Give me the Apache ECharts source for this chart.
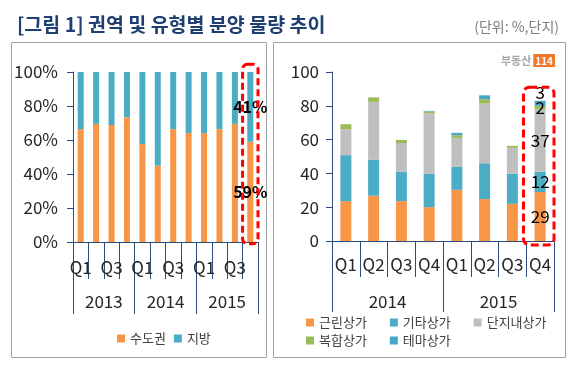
<!DOCTYPE html>
<html><head><meta charset="utf-8">
<script src="https://cdn.jsdelivr.net/npm/echarts@6/dist/echarts.min.js"></script>
<style>html,body{margin:0;padding:0;background:#fff}#c{width:575px;height:370px}</style>
</head><body><div id="c"></div>
<script>
const quarterNames = ['Q1','Q2','Q3','Q4'];
const leftYears = ['2013','2014','2015'];
const rightYears = ['2014','2015'];
// left: share (%) by region
const capitalShare = [66.4, 69.5, 68.8, 73.4, 57.6, 44.9, 66.4, 64.1, 64.1, 66.4, 69.5, 59];
const regionShare  = [33.6, 30.5, 31.2, 26.6, 42.4, 55.1, 33.6, 35.9, 35.9, 33.6, 30.5, 41];
// right: supply (단지) by type
const neighborhood = [23.6, 26.8, 23.6, 20, 30.3, 24.8, 22, 29];
const otherType    = [27.2, 21.2, 17.4, 19.8, 13.6, 21.2, 17.8, 12];
const complexInner = [15.3, 34.3, 17, 35.8, 17.1, 35.3, 15.3, 37];
const mixedUse     = [3, 2.7, 1.8, 1, 1.6, 2.6, 1.2, 2];
const themeMall    = [0, 0, 0, 0.4, 1.4, 2.3, 0, 3];

const FONT = 'Noto Sans CJK KR';
const AXIS = '#2B4A7E';
const TXT = '#262626';

const leftCats = [];
leftYears.forEach(y => quarterNames.forEach(q => leftCats.push(y + ' ' + q)));
const rightCats = [];
rightYears.forEach(y => quarterNames.forEach(q => rightCats.push(y + ' ' + q)));

function lastLabeled(arr, labelOpt) {
  return arr.map((v, i) => i === arr.length - 1 ? {value: v, label: Object.assign({show: true}, labelOpt)} : v);
}

const chart = echarts.init(document.getElementById('c'), null, {renderer: 'canvas'});

const qAxisCommon = {
  type: 'category', position: 'bottom',
  axisLine: {show: true, lineStyle: {color: AXIS, width: 1}},
  axisTick: {show: true, interval: 0, lineStyle: {color: AXIS}},
  axisLabel: {color: TXT, fontSize: 17, fontFamily: FONT, formatter: v => v.split(' ')[1]}
};
const yAxisCommon = {
  type: 'value', min: 0, max: 100, interval: 20,
  axisLine: {show: true, lineStyle: {color: AXIS}},
  axisTick: {show: true, length: 6, lineStyle: {color: AXIS}},
  splitLine: {show: false},
  axisLabel: {color: TXT, fontSize: 17, fontFamily: FONT}
};

const segLabel = {position: 'inside', color: '#000', fontSize: 17, fontFamily: FONT, formatter: p => Math.round(p.value)};

const option = {
  animation: false,
  textStyle: {fontFamily: FONT},
  title: [
    {text: '[그림 1] 권역 및 유형별 분양 물량 추이', left: 12, top: 10,
     textStyle: {fontSize: 19.5, fontWeight: 'bold', color: '#1F3F73', fontFamily: FONT}},
    {text: '(단위: %,단지)', right: 11, top: 15,
     textStyle: {fontSize: 14, fontWeight: 'normal', color: '#7F7F7F', fontFamily: FONT}},
    {text: '{a|부동산}{b|114}', right: 15, top: 49,
     textStyle: {rich: {
       a: {fontSize: 11, color: '#A8A8A8', fontWeight: 'bold', fontFamily: FONT, padding: [0, 2, 0, 0]},
       b: {fontSize: 10, color: '#fff', backgroundColor: '#F0782A', fontWeight: 'bold', fontFamily: FONT, padding: [2, 2, 1, 2]}
     }}}
  ],
  grid: [
    {left: 73, right: 317, top: 72, bottom: 128},
    {left: 332, right: 21, top: 72, bottom: 129}
  ],
  xAxis: [
    Object.assign({}, qAxisCommon, {gridIndex: 0, data: leftCats,
      axisTick: {show: true, interval: 0, length: 37, lineStyle: {color: AXIS}},
      axisLabel: Object.assign({}, qAxisCommon.axisLabel, {interval: 1, margin: 17})}),
    {type: 'category', gridIndex: 0, position: 'bottom', data: leftYears,
      axisLine: {show: false},
      axisTick: {show: true, interval: 0, length: 72, lineStyle: {color: AXIS}},
      axisLabel: {color: TXT, fontSize: 17, fontFamily: FONT, margin: 51}},
    Object.assign({}, qAxisCommon, {gridIndex: 1, data: rightCats,
      axisTick: {show: true, interval: 0, length: 36, lineStyle: {color: AXIS}},
      axisLabel: Object.assign({}, qAxisCommon.axisLabel, {interval: 0, margin: 15})}),
    {type: 'category', gridIndex: 1, position: 'bottom', data: rightYears,
      axisLine: {show: false},
      axisTick: {show: true, interval: 0, length: 71, lineStyle: {color: AXIS}},
      axisLabel: {color: TXT, fontSize: 17, fontFamily: FONT, margin: 52}}
  ],
  yAxis: [
    Object.assign({}, yAxisCommon, {gridIndex: 0,
      axisLabel: Object.assign({}, yAxisCommon.axisLabel, {formatter: '{value}%', margin: 15})}),
    Object.assign({}, yAxisCommon, {gridIndex: 1,
      axisLabel: Object.assign({}, yAxisCommon.axisLabel, {margin: 13})})
  ],
  legend: [
    {data: ['수도권', '지방'], left: 112, top: 327, itemWidth: 8, itemHeight: 8, itemGap: 8, icon: 'rect',
     textStyle: {fontSize: 13, color: '#404040', fontFamily: FONT}},
    {data: ['근린상가', '기타상가', '단지내상가'], left: 301, top: 311, itemWidth: 8, itemHeight: 8, itemGap: 23, icon: 'rect',
     textStyle: {fontSize: 13, color: '#404040', fontFamily: FONT}},
    {data: ['복합상가', '테마상가'], left: 301, top: 329, itemWidth: 8, itemHeight: 8, itemGap: 23, icon: 'rect',
     textStyle: {fontSize: 13, color: '#404040', fontFamily: FONT}}
  ],
  series: [
    {name: '수도권', type: 'bar', stack: 'L', xAxisIndex: 0, yAxisIndex: 0, barWidth: 6,
     itemStyle: {color: '#F79646'},
     label: {show: false},
     data: lastLabeled(capitalShare, {position: 'inside', color: '#000', fontSize: 16, fontWeight: 'bold', fontFamily: FONT, formatter: '{c}%'})},
    {name: '지방', type: 'bar', stack: 'L', xAxisIndex: 0, yAxisIndex: 0, barWidth: 6,
     itemStyle: {color: '#4BACC6'},
     label: {show: false},
     data: lastLabeled(regionShare, {position: 'inside', color: '#000', fontSize: 16, fontWeight: 'bold', fontFamily: FONT, formatter: '{c}%'})},
    {name: '근린상가', type: 'bar', stack: 'R', xAxisIndex: 2, yAxisIndex: 1, barWidth: 11,
     itemStyle: {color: '#F79646'}, label: {show: false}, data: lastLabeled(neighborhood, segLabel)},
    {name: '기타상가', type: 'bar', stack: 'R', xAxisIndex: 2, yAxisIndex: 1, barWidth: 11,
     itemStyle: {color: '#4BACC6'}, label: {show: false}, data: lastLabeled(otherType, segLabel)},
    {name: '단지내상가', type: 'bar', stack: 'R', xAxisIndex: 2, yAxisIndex: 1, barWidth: 11,
     itemStyle: {color: '#BFBFBF'}, label: {show: false}, data: lastLabeled(complexInner, segLabel)},
    {name: '복합상가', type: 'bar', stack: 'R', xAxisIndex: 2, yAxisIndex: 1, barWidth: 11,
     itemStyle: {color: '#9BBB59'}, label: {show: false}, data: lastLabeled(mixedUse, segLabel)},
    {name: '테마상가', type: 'bar', stack: 'R', xAxisIndex: 2, yAxisIndex: 1, barWidth: 11,
     itemStyle: {color: '#46A8C8'}, label: {show: false},
     data: lastLabeled(themeMall, Object.assign({}, segLabel, {position: 'top', distance: 0}))}
  ]
};
chart.setOption(option);

// panel frames and highlight boxes (derived from library scales)
const lA = chart.convertToPixel({xAxisIndex: 0}, leftCats[10]);
const lB = chart.convertToPixel({xAxisIndex: 0}, leftCats[11]);
const lBand = lB - lA;
const lTop = chart.convertToPixel({yAxisIndex: 0}, 104.5);
const lBot = chart.convertToPixel({yAxisIndex: 0}, -1);
const rA = chart.convertToPixel({xAxisIndex: 2}, rightCats[6]);
const rB = chart.convertToPixel({xAxisIndex: 2}, rightCats[7]);
const rBand = rB - rA;
const rTop = chart.convertToPixel({yAxisIndex: 1}, 91);
const rBot = chart.convertToPixel({yAxisIndex: 1}, -2.4);

chart.setOption({
  graphic: [
    {type: 'rect', shape: {x: 11.5, y: 42.5, width: 255, height: 315}, style: {fill: 'none', stroke: '#A0A0A0', lineWidth: 1}, z: -1},
    {type: 'rect', shape: {x: 273.5, y: 42.5, width: 292, height: 315}, style: {fill: 'none', stroke: '#A0A0A0', lineWidth: 1}, z: -1},
    {type: 'rect', shape: {x: lB - lBand * 0.5, y: lTop, width: lBand, height: lBot - lTop, r: 5},
     style: {fill: 'none', stroke: '#FF0000', lineWidth: 3, lineDash: [7, 4]}, z: 10},
    {type: 'rect', shape: {x: rB - rBand * 0.6, y: rTop, width: rBand * 1.1, height: rBot - rTop, r: 6},
     style: {fill: 'none', stroke: '#FF0000', lineWidth: 3, lineDash: [8, 4]}, z: 10}
  ]
});
</script></body></html>
